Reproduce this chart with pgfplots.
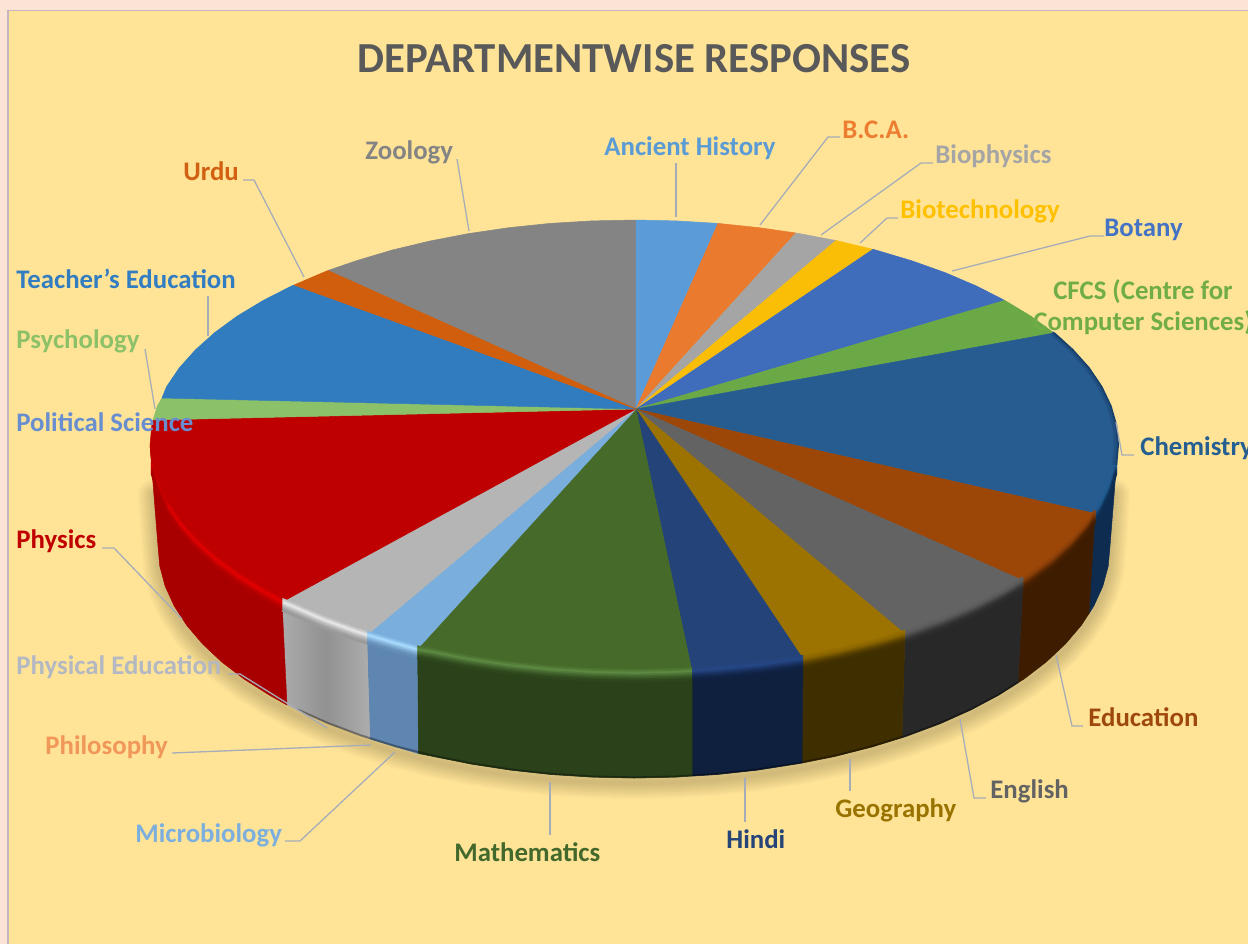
\documentclass[border=0pt]{standalone}
\usepackage{pgfplots}
\pgfplotsset{compat=1.18}
\usepackage{fontspec}
\setmainfont{Carlito}
\definecolor{bgY}{HTML}{FFE497}
\definecolor{bgP}{HTML}{FBE3D6}
\definecolor{leader}{HTML}{A6ADB9}
\definecolor{tAH}{HTML}{5B9BD5}\definecolor{tBCA}{HTML}{ED7D31}\definecolor{tBPH}{HTML}{A5A5A5}
\definecolor{tBT}{HTML}{FFC000}\definecolor{tBOT}{HTML}{4472C4}\definecolor{tCF}{HTML}{70AD47}
\definecolor{tCH}{HTML}{255E91}\definecolor{tED}{HTML}{9E480E}\definecolor{tEN}{HTML}{636363}
\definecolor{tGE}{HTML}{997300}\definecolor{tHI}{HTML}{264478}\definecolor{tMA}{HTML}{43682B}
\definecolor{tMI}{HTML}{7CAFDD}\definecolor{tPHI}{HTML}{F1975A}\definecolor{tPE}{HTML}{B3B8C2}
\definecolor{tPY}{HTML}{C00000}\definecolor{tPO}{HTML}{698ED0}\definecolor{tPS}{HTML}{8CC168}
\definecolor{tTE}{HTML}{327DC2}\definecolor{tUR}{HTML}{D26012}\definecolor{tZO}{HTML}{848484}
% top faces
\definecolor{fAH}{HTML}{5B9BD8}\definecolor{fBCA}{HTML}{EA7B2E}\definecolor{fBPH}{HTML}{A5A5A5}
\definecolor{fBT}{HTML}{FBBE07}\definecolor{fBOT}{HTML}{3F6DBC}\definecolor{fCF}{HTML}{6BA846}
\definecolor{fCH}{HTML}{265C90}\definecolor{fED}{HTML}{9C4708}\definecolor{fEN}{HTML}{636363}
\definecolor{fGE}{HTML}{9C7200}\definecolor{fHI}{HTML}{234379}\definecolor{fMA}{HTML}{466A29}
\definecolor{fMI}{HTML}{79AEDD}\definecolor{fPE}{HTML}{B5B5B5}\definecolor{fPY}{HTML}{BF0000}
\definecolor{fPS}{HTML}{8BC168}\definecolor{fTE}{HTML}{307CBE}\definecolor{fUR}{HTML}{D05E0C}
\definecolor{fZO}{HTML}{848484}
% side faces
\definecolor{sCH}{HTML}{0D2C4F}\definecolor{sED}{HTML}{3E1C00}\definecolor{sEN}{HTML}{282828}
\definecolor{sGE}{HTML}{3E2E00}\definecolor{sHI}{HTML}{0F1F3E}\definecolor{sMA}{HTML}{2A4119}
\definecolor{sMI}{HTML}{5E86B0}\definecolor{sPE}{HTML}{949494}\definecolor{sPY}{HTML}{A80000}
% rim highlights
\definecolor{hCH}{HTML}{1F5A8E}\definecolor{hED}{HTML}{8A3E08}\definecolor{hEN}{HTML}{5A5A5A}
\definecolor{hGE}{HTML}{8A6500}\definecolor{hHI}{HTML}{244684}\definecolor{hMA}{HTML}{5C8A42}
\definecolor{hMI}{HTML}{A9DCFF}\definecolor{hPE}{HTML}{E8E8E8}\definecolor{hPY}{HTML}{E40000}
\definecolor{hPYb}{HTML}{CC0000}
\newcommand{\slice}[2]{\addplot[fill=#1,draw=#1,line width=.25pt,line join=round] coordinates {#2} -- cycle;}
\newcommand{\rim}[4]{%
 \addplot[draw=#1!25!#4,line width=1.2pt,yshift=1.5pt] coordinates {#3};
 \addplot[draw=#1!60!#4,line width=1.2pt,yshift=.7pt] coordinates {#3};
 \addplot[draw=#1,line width=1.2pt,yshift=-.1pt] coordinates {#3};
 \addplot[draw=#1!80!#2,line width=1.2pt,yshift=-.9pt] coordinates {#3};
 \addplot[draw=#1!55!#2,line width=1.2pt,yshift=-1.7pt] coordinates {#3};
 \addplot[draw=#1!35!#2,line width=1.2pt,yshift=-2.5pt] coordinates {#3};
 \addplot[draw=#1!18!#2,line width=1.2pt,yshift=-3.3pt] coordinates {#3};
 \addplot[draw=#1!7!#2,line width=1.2pt,yshift=-4.1pt] coordinates {#3};}
\newcommand{\lab}[4]{\node[anchor=base west,inner sep=0pt,text=#1,font=\fontsize{13.4}{16}\selectfont\bfseries] at (axis cs:#2,#3) {#4};}
\newcommand{\lead}[1]{\addplot[draw=leader,line width=.65pt] coordinates {#1};}
\newcommand{\shadowarc}[1]{\addplot[draw=black!85!bgY,opacity=.026,line width=#1,line cap=round,line join=round,yshift=-2.5pt] coordinates {(1114,490)(1110,546)(1108.2,566.2)(1102.8,586.3)(1093.8,606)(1081.3,625.3)(1065.4,644)(1046.2,662)(1023.9,679.1)(998.6,695.1)(970.6,710)(940,723.7)(907,736)(872,746.9)(835.2,756.3)(796.8,764)(757.2,770.1)(716.6,774.5)(675.5,777.1)(634,778)(592.5,777.1)(551.4,774.5)(510.8,770.1)(471.2,764)(432.8,756.3)(396,746.9)(361,736)(328,723.7)(297.4,710)(269.4,695.1)(244.1,679.1)(221.8,662)(202.6,644)(186.7,625.3)(174.2,606)(165.2,586.3)(159.8,566.2)(158,546)(154,490)};}
\begin{document}
\begin{tikzpicture}
\path[use as bounding box,clip] (0,0) rectangle (624pt,472pt);
\fill[bgP] (0,0) rectangle (624pt,472pt);
\fill[bgY] (4pt,0) rectangle (624pt,466.8pt);
\draw[color=black!12!bgP!90!blue,line width=.8pt] (4pt,0) -- (4pt,466.8pt) -- (624pt,466.8pt);
\begin{axis}[at={(0,0)},anchor=south west,scale only axis,width=624pt,height=472pt,
 xmin=0,xmax=1248,ymin=0,ymax=944,y dir=reverse,hide axis,clip=false,no markers]
% shadow under the pie
\shadowarc{16pt}
\shadowarc{14pt}
\shadowarc{12pt}
\shadowarc{10pt}
\shadowarc{8pt}
\shadowarc{6pt}
\shadowarc{4pt}
\shadowarc{2pt}
% side walls
\slice{sCH}{(1118,445)(1116.2,464.9)(1110.6,484.6)(1101.5,504)(1095,513.5)(1089,613.5)(1093.8,606)(1102.8,586.3)(1108.2,566.2)(1110,546)}
\slice{sED}{(1095,513.5)(1088.8,523)(1072.6,541.4)(1053.2,559)(1030.5,575.8)(1023,580.5)(1018,682.8)(1023.9,679.1)(1046.2,662)(1065.4,644)(1081.3,625.3)(1089,613.5)}
\slice{sEN}{(1023,580.5)(1004.7,591.6)(976.2,606.2)(945.1,619.6)(911.6,631.8)(905,634)(902,737.7)(907,736)(940,723.7)(970.6,710)(998.6,695.1)(1018,682.8)}
\slice{sGE}{(905,634)(876,642.4)(838.5,651.6)(803,659)(802,763)(835.2,756.3)(872,746.9)(902,737.7)}
\slice{sHI}{(803,659)(759.3,665.2)(718,669.5)(692,671.2)(692,776)(716.6,774.5)(757.2,770.1)(802,763)}
\slice{sMA}{(692,671.2)(676.2,672.1)(634,673)(591.8,672.1)(550,669.5)(508.7,665.2)(468.5,659.3)(429.5,651.6)(417,649.5)(418,753.5)(432.8,756.3)(471.2,764)(510.8,770.1)(551.4,774.5)(592.5,777.1)(634,778)(675.5,777.1)(692,776)}
\slice{sMI}{(417,649.5)(392,642.4)(367,635)(370,739)(396,746.9)(418,753.5)}
\addplot[shade,left color=black!33,right color=black!32,middle color=black!43,draw=none] coordinates {(367,635)(356.4,631.8)(322.9,619.6)(291.8,606.2)(282,602)(287,705)(297.4,710)(328,723.7)(361,736)(370,739)} -- cycle;
\slice{sPY}{(282,602)(263.3,591.6)(237.5,575.8)(214.8,559)(195.4,541.4)(179.2,523)(166.5,504)(157.4,484.6)(151.8,464.9)(150,445)(158,546)(159.8,566.2)(165.2,586.3)(174.2,606)(186.7,625.3)(202.6,644)(221.8,662)(244.1,679.1)(269.4,695.1)(287,705)}
% dark lower edge of the wall
\addplot[draw=black,opacity=.35,line width=1pt,yshift=.3pt] coordinates {(1018,682.8)(998.6,695.1)(970.6,710)(940,723.7)(907,736)(872,746.9)(835.2,756.3)(796.8,764)(757.2,770.1)(716.6,774.5)(675.5,777.1)(634,778)(592.5,777.1)(551.4,774.5)(510.8,770.1)(471.2,764)(432.8,756.3)(396,746.9)(361,736)(328,723.7)(297.4,710)};
% top faces
\slice{fZO}{(636,409)(328,270.5)(356.4,260.7)(392,250.1)(429.5,241.1)(468.5,233.6)(508.7,227.7)(550,223.4)(591.8,220.9)(636,220)}
\slice{fAH}{(636,409)(636,220)(676.2,220.9)(718,223.4)}
\slice{fBCA}{(636,409)(718,223.4)(759.3,227.7)(796,233)}
\slice{fBPH}{(636,409)(796,233)(799.5,233.6)(836,240.5)}
\slice{fBT}{(636,409)(836,240.5)(873,249.3)}
\slice{fBOT}{(636,409)(873,249.3)(876,250.1)(911.6,260.7)(945.1,272.6)(976.2,285.9)(1004.7,300.4)}
\slice{fCF}{(636,409)(1004.7,300.4)(1030.5,315.9)(1054,333)}
\slice{fCH}{(636,409)(1054,333)(1072.6,349.9)(1088.8,368)(1101.5,386.8)(1110.6,405.9)(1116.2,425.4)(1118,445)(1116.2,464.9)(1110.6,484.6)(1101.5,504)(1095,513.5)}
\slice{fED}{(636,409)(1095,513.5)(1088.8,523)(1072.6,541.4)(1053.2,559)(1030.5,575.8)(1023,580.5)}
\slice{fEN}{(636,409)(1023,580.5)(1004.7,591.6)(976.2,606.2)(945.1,619.6)(911.6,631.8)(905,634)}
\slice{fGE}{(636,409)(905,634)(876,642.4)(838.5,651.6)(803,659)}
\slice{fHI}{(636,409)(803,659)(759.3,665.2)(718,669.5)(692,671.2)}
\slice{fMA}{(636,409)(692,671.2)(676.2,672.1)(634,673)(591.8,672.1)(550,669.5)(508.7,665.2)(468.5,659.3)(429.5,651.6)(417,649.5)}
\slice{fMI}{(636,409)(417,649.5)(392,642.4)(367,635)}
\slice{fPE}{(636,409)(367,635)(356.4,631.8)(322.9,619.6)(291.8,606.2)(282,602)}
\slice{fPY}{(636,409)(282,602)(263.3,591.6)(237.5,575.8)(214.8,559)(195.4,541.4)(179.2,523)(166.5,504)(157.4,484.6)(151.8,464.9)(150,445)(151.8,425.4)(153,420)}
\slice{fPS}{(636,409)(153,420)(157.4,405.9)(162,398)}
\slice{fTE}{(636,409)(162,398)(166.5,386.8)(179.2,368)(195.4,349.9)(214.8,332.5)(237.5,315.9)(263.3,300.4)(291.8,285.9)(294,285)}
\slice{fUR}{(636,409)(294,285)(322.9,272.6)(328,270.5)}
% bevelled rim
\rim{hCH}{sCH}{(1116.2,464.9)(1110.6,484.6)(1101.5,504)(1095,513.5)}{fCH}
\rim{hED}{sED}{(1095,513.5)(1088.8,523)(1072.6,541.4)(1053.2,559)(1030.5,575.8)(1023,580.5)}{fED}
\rim{hEN}{sEN}{(1023,580.5)(1004.7,591.6)(976.2,606.2)(945.1,619.6)(911.6,631.8)(905,634)}{fEN}
\rim{hGE}{sGE}{(905,634)(876,642.4)(838.5,651.6)(803,659)}{fGE}
\rim{hHI}{sHI}{(803,659)(759.3,665.2)(718,669.5)(692,671.2)}{fHI}
\rim{hMA}{sMA}{(692,671.2)(676.2,672.1)(634,673)(591.8,672.1)(550,669.5)(508.7,665.2)(468.5,659.3)(429.5,651.6)(417,649.5)}{fMA}
\rim{hMI}{sMI}{(417,649.5)(392,642.4)(367,635)}{fMI}
\rim{hPE}{sPE}{(367,635)(356.4,631.8)(322.9,619.6)(291.8,606.2)(282,602)}{fPE}
\rim{hPY}{sPY}{(282,602)(263.3,591.6)(237.5,575.8)(214.8,559)(195.4,541.4)(179.2,523)(166.5,504)}{fPY}
\rim{hPYb}{sPY}{(166.5,504)(157.4,484.6)(151.8,464.9)}{fPY}
\addplot[draw=sCH!22!fCH,line width=2pt,xshift=-1pt] coordinates {(1054,333)(1072.6,349.9)(1088.8,368)(1101.5,386.8)(1110.6,405.9)(1116.2,425.4)(1118,445)(1116.2,464.9)};
\addplot[draw=sCH!55!fCH,line width=1pt] coordinates {(1054,333)(1072.6,349.9)(1088.8,368)(1101.5,386.8)(1110.6,405.9)(1116.2,425.4)(1118,445)(1116.2,464.9)};
% leader lines
\lead{(676,163)(676,217)}
\lead{(840,137)(828,137)(760,225)}
\lead{(933,163)(921,163)(821,235)}
\lead{(898,218)(887,218)(860,243)}
\lead{(1104,236)(1090,236)(952,271)}
\lead{(1116,422)(1122,455)(1134,455)}
\lead{(1056,655)(1072,726)(1083,726)}
\lead{(960,719)(974,798)(986,798)}
\lead{(850,759)(850,791)}
\lead{(745,778)(745,822)}
\lead{(550,782)(550,835)}
\lead{(395,752)(300,841)(285,841)}
\lead{(172,753)(371,745)}
\lead{(228,674)(240,674)(327,728)}
\lead{(102,548)(114,548)(182,619)}
\lead{(145,349)(155,409)}
\lead{(208,296)(208,336)}
\lead{(243,180)(254,180)(304,277)}
\lead{(457,159)(469,231)}
% labels
\node[text=black!65,font=\fontsize{21.4}{25}\selectfont\bfseries] at (axis cs:634,59) {DEPARTMENTWISE RESPONSES};
\lab{tAH}{604}{155}{Ancient History}
\lab{tBCA}{842}{138}{B.C.A.}
\lab{tBPH}{935}{163}{Biophysics}
\lab{tBT}{900}{218}{Biotechnology}
\lab{tBOT}{1104}{236}{Botany}
\node[text=tCF,font=\fontsize{13.4}{15.6}\selectfont\bfseries,align=center,inner sep=0pt] at (axis cs:1143,307) {CFCS (Centre for\\Computer Sciences)};
\lab{tCH}{1140}{455}{Chemistry}
\lab{tED}{1088}{726}{Education}
\lab{tEN}{990}{798}{English}
\lab{tGE}{835}{817}{Geography}
\lab{tHI}{726}{848}{Hindi}
\lab{tMA}{454}{861}{Mathematics}
\lab{tMI}{135}{842}{Microbiology}
\lab{tPHI}{45}{754}{Philosophy}
\lab{tPE}{16}{674}{Physical Education}
\lab{tPY}{16}{548}{Physics}
\lab{tPO}{16}{431}{Political Science}
\lab{tPS}{16}{348}{Psychology}
\lab{tTE}{16}{288}{Teacher\symbol{39}s Education}
\lab{tUR}{183}{180}{Urdu}
\lab{tZO}{365}{159}{Zoology}
\end{axis}
\end{tikzpicture}
\end{document}
